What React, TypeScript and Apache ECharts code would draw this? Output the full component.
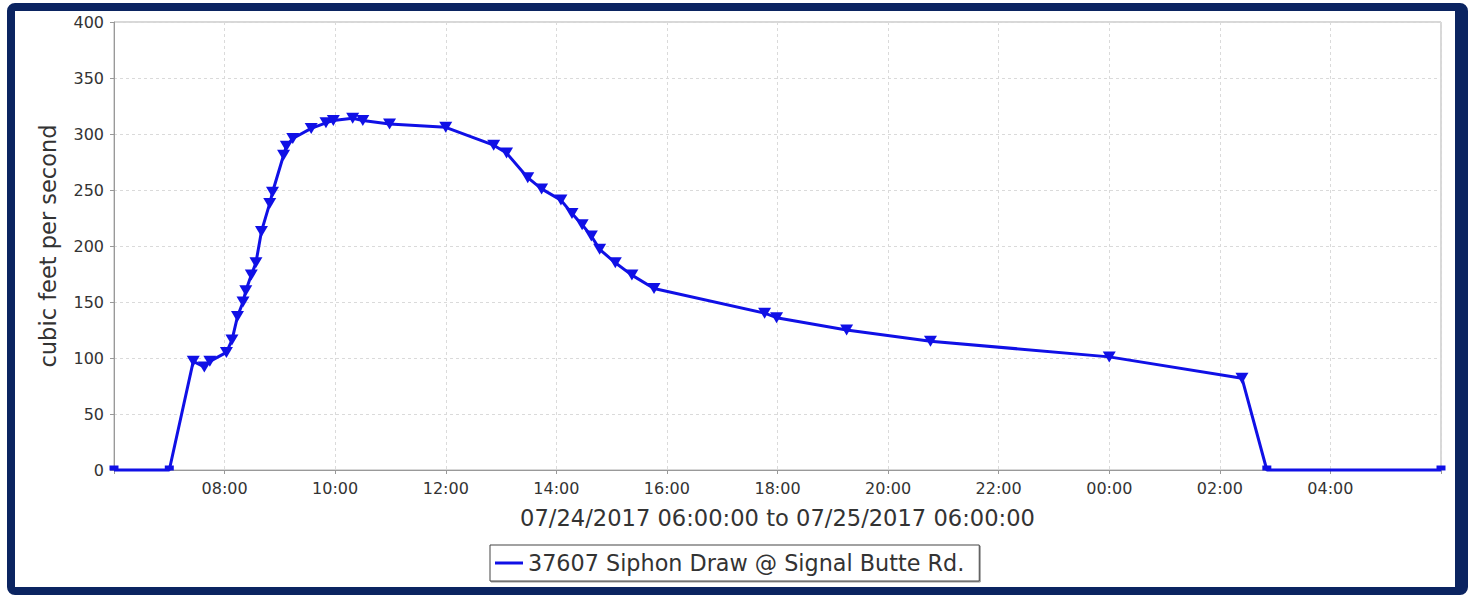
import React, { useEffect, useRef } from "react";
import * as echarts from "echarts";

// Sample times (month/day hour:minute) and flows (cubic feet per second)
const sampleTimes: string[] = [
  "07/24 06:00", "07/24 07:00", "07/24 07:26", "07/24 07:38", "07/24 07:44",
  "07/24 08:02", "07/24 08:08", "07/24 08:14", "07/24 08:20", "07/24 08:23",
  "07/24 08:29", "07/24 08:34", "07/24 08:40", "07/24 08:49", "07/24 08:52",
  "07/24 09:04", "07/24 09:07", "07/24 09:14", "07/24 09:34", "07/24 09:50",
  "07/24 09:58", "07/24 10:19", "07/24 10:30", "07/24 10:59", "07/24 12:00",
  "07/24 12:52", "07/24 13:06", "07/24 13:29", "07/24 13:44", "07/24 14:05",
  "07/24 14:17", "07/24 14:28", "07/24 14:38", "07/24 14:47", "07/24 15:04",
  "07/24 15:22", "07/24 15:46", "07/24 17:46", "07/24 17:59", "07/24 19:15",
  "07/24 20:46", "07/25 00:00", "07/25 02:24", "07/25 02:51", "07/25 06:00",
];
const flowValues: number[] = [
  0, 0, 97, 92, 97,
  105, 116, 137, 150, 160,
  174, 185, 213, 238, 248,
  281, 289, 296, 305, 310,
  312, 314, 312, 309, 306,
  290, 283, 261, 251, 241,
  229, 219, 209, 197, 185,
  174, 162, 140, 136, 125,
  115, 101, 82, 0, 0,
];

const seriesName = "37607 Siphon Draw @ Signal Butte Rd.";
const xAxisTitle = "07/24/2017 06:00:00 to 07/25/2017 06:00:00";
const yAxisTitle = "cubic feet per second";
const xMinHour = 6;
const xMaxHour = 30;
const xStepHours = 2;
const yMin = 0;
const yMax = 400;
const yStep = 50;

// hours since 07/24 00:00
function toHours(s: string): number {
  const [md, hm] = s.split(" ");
  const day = parseInt(md.split("/")[1], 10);
  const [h, m] = hm.split(":").map((x) => parseInt(x, 10));
  return (day - 24) * 24 + h + m / 60;
}

const FONT = "DejaVu Sans";
const BLUE = "#1010e6";

export default function App() {
  const ref = useRef<HTMLDivElement>(null);

  useEffect(() => {
    if (!ref.current) return;
    const chart = echarts.init(ref.current, undefined, { renderer: "svg" });

    const data = sampleTimes.map((t, i) => {
      const v = flowValues[i];
      const item: any = { value: [toHours(t), v] };
      if (v === 0) {
        item.symbol = "rect";
        item.symbolSize = [9, 5];
        item.symbolRotate = 0;
        item.symbolOffset = [0, -2];
      }
      return item;
    });

    chart.setOption({
      animation: false,
      backgroundColor: "transparent",
      grid: {
        left: 114,
        right: 27,
        top: 22,
        bottom: 125,
        show: true,
        borderColor: "#b0b0b0",
        borderWidth: 1,
        backgroundColor: "#ffffff",
      },
      legend: {
        left: 490,
        top: 545,
        data: [seriesName],
        icon: "rect",
        itemWidth: 28,
        itemHeight: 3,
        padding: [7, 15, 7, 5],
        borderColor: "#444",
        borderWidth: 1,
        backgroundColor: "#fff",
        shadowColor: "rgba(0,0,0,0.4)",
        shadowOffsetX: 1,
        shadowOffsetY: 1,
        shadowBlur: 0,
        textStyle: { fontFamily: FONT, fontSize: 22.3, color: "#333" },
      },
      xAxis: {
        type: "value",
        min: xMinHour,
        max: xMaxHour,
        interval: xStepHours,
        name: xAxisTitle,
        nameLocation: "middle",
        nameGap: 36,
        nameTextStyle: { fontFamily: FONT, fontSize: 22.6, color: "#333" },
        axisLine: { show: true, lineStyle: { color: "#999", width: 1 } },
        axisTick: { show: true, length: 4, lineStyle: { color: "#999" } },
        axisLabel: {
          margin: 10,
          fontFamily: FONT,
          fontSize: 16,
          color: "#333",
          formatter: (v: number) => {
            if (v <= xMinHour || v >= xMaxHour) return "";
            const h = ((v % 24) + 24) % 24;
            return (h < 10 ? "0" : "") + h + ":00";
          },
        },
        splitLine: {
          show: true,
          lineStyle: { color: "#dadada", type: [3, 3], width: 1 },
        },
      },
      yAxis: {
        type: "value",
        min: yMin,
        max: yMax,
        interval: yStep,
        name: yAxisTitle,
        nameLocation: "middle",
        nameGap: 55,
        nameTextStyle: { fontFamily: FONT, fontSize: 22.5, color: "#333" },
        axisLine: { show: true, lineStyle: { color: "#999", width: 1 } },
        axisTick: { show: true, length: 4, lineStyle: { color: "#999" } },
        axisLabel: { margin: 10, fontFamily: FONT, fontSize: 16, color: "#333" },
        splitLine: {
          show: true,
          lineStyle: { color: "#dadada", type: [3, 3], width: 1 },
        },
      },
      series: [
        {
          name: seriesName,
          type: "line",
          data,
          clip: false,
          symbol: "triangle",
          symbolRotate: 180,
          symbolSize: [13, 11],
          showAllSymbol: true,
          lineStyle: { color: BLUE, width: 3 },
          itemStyle: { color: BLUE, borderWidth: 0 },
          color: BLUE,
        },
      ],
    });

    return () => chart.dispose();
  }, []);

  return (
    <div
      style={{
        position: "fixed",
        left: 0,
        top: 0,
        width: 1468,
        height: 595,
        background: "#ffffff",
        overflow: "hidden",
      }}
    >
      <div
        style={{
          position: "absolute",
          left: 7,
          top: 3,
          right: 0,
          bottom: 0,
          borderStyle: "solid",
          borderColor: "#0b2461",
          borderWidth: "8px 13px 8px 8px",
          borderRadius: 8,
          boxSizing: "border-box",
          background: "#ffffff",
        }}
      />
      <div
        ref={ref}
        style={{ position: "absolute", left: 0, top: 0, width: 1468, height: 595 }}
      />
    </div>
  );
}
